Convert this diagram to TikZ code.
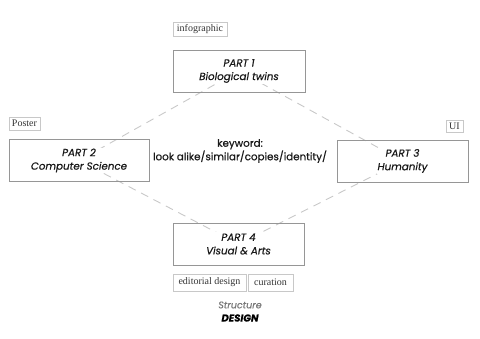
\documentclass[tikz,border=0pt]{standalone}
\usepackage{fontspec}
\setmainfont{Liberation Serif}
\setsansfont{Poppins}[UprightFeatures={FakeBold=0.6}, ItalicFeatures={FakeBold=0.6}, BoldItalicFeatures={FakeBold=0.4}]
\usetikzlibrary{backgrounds}
\definecolor{boxgray}{RGB}{150,150,150}
\definecolor{tagline}{RGB}{200,200,200}
\definecolor{dashgray}{RGB}{200,200,200}
\definecolor{structgray}{RGB}{120,120,120}
\tikzset{
  partbox/.style={draw=boxgray, line width=0.8pt, minimum width=#1, minimum height=42pt, inner sep=0pt},
  parttext/.style={fill=white, inner sep=1pt, align=center, text=black!90, font=\sffamily\itshape\fontsize{10.3}{13.5}\selectfont},
  tagbox/.style={draw=tagline, line width=0.7pt, inner sep=0pt, text=black!80, font=\fontsize{10}{11}\selectfont},
  dashline/.style={draw=dashgray, line width=0.9pt, dash pattern=on 8pt off 6pt}
}
\begin{document}
\begin{tikzpicture}[x=1pt,y=-1pt]
\useasboundingbox (0,0) rectangle (480,339);
% main boxes
\node[partbox=132pt] (p1) at (239,71) {};
\node[partbox=140pt] (p2) at (79,160.5) {};
\node[partbox=131pt] (p3) at (402.5,161) {};
\node[partbox=131pt] (p4) at (238.5,244) {};
% dashed diamond
\begin{scope}[on background layer]
\draw[dashline] (p1.center) -- (p2.center);
\draw[dashline] (p2.center) -- (p4.center);
\draw[dashline] (p4.center) -- (p3.center);
\draw[dashline] (p3.center) -- (p1.center);
\end{scope}
% texts
\node[parttext] (t1) at (p1) {PART 1\\Biological twins};
\node[parttext] (t2) at (p2) {PART 2\\Computer Science};
\node[parttext] (t3) at (p3) {PART 3\\Humanity};
\node[parttext] (t4) at (p4) {PART 4\\Visual \& Arts};
\node[parttext, font=\sffamily\fontsize{10.3}{13.5}\selectfont] (kw) at (240,151) {keyword:\\look alike/similar/copies/identity/};
% tags
\node[tagbox, minimum width=54pt, minimum height=14pt] (tinfo) at (200,29) {infographic};
\node[tagbox, minimum width=31pt, minimum height=13pt] (tposter) at (24.5,123.5) {Poster};
\node[tagbox, minimum width=17pt, minimum height=12pt] (tui) at (454.5,126) {UI};
\node[tagbox, minimum width=73pt, minimum height=17pt] (ted) at (209.5,282.5) {editorial design};
\node[tagbox, minimum width=45pt, minimum height=17pt] (tcur) at (270.5,282.5) {curation};
% footer
\node[font=\sffamily\itshape\fontsize{9.5}{10}\selectfont, text=structgray, inner sep=0pt] (st) at (240,305) {Structure};
\node[font=\sffamily\bfseries\itshape\fontsize{10}{10}\selectfont, inner sep=0pt] (ds) at (240,318) {DESIGN};
\end{tikzpicture}
\end{document}
